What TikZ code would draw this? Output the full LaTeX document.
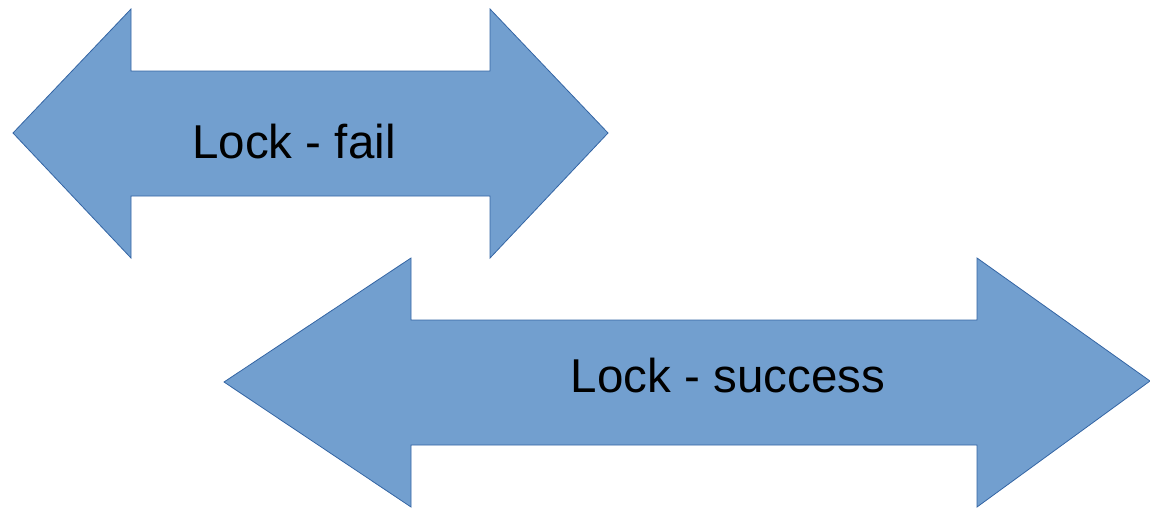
\documentclass[tikz,border=0pt]{standalone}
\usepackage{fontspec}
\setmainfont{Liberation Sans}
\definecolor{arrowfill}{HTML}{729FCF}
\definecolor{arrowline}{HTML}{3465A4}

\begin{document}
\begin{tikzpicture}[
        x=1pt, y=-1pt,
        bigarrow/.style={fill=arrowfill, draw=arrowline, line width=0.8pt, line join=miter},
        label/.style={anchor=base, inner sep=0pt, font=\fontsize{47.5}{52}\selectfont}
        ]
        \useasboundingbox (0,0) rectangle (1150,509);

        % Arrows
        \draw [bigarrow] (13,133) -- (131,9) -- (131,71) -- (490,71) -- (490,9) -- (608,133)
              -- (490,258) -- (490,196) -- (131,196) -- (131,258) -- cycle;
        \draw [bigarrow] (224,382) -- (411,258) -- (411,320) -- (977,320) -- (977,258) -- (1150,381)
              -- (977,507) -- (977,445) -- (411,445) -- (411,507) -- cycle;

        % Labels
        \node (fail) [label] at (294,158) {Lock - fail};
        \node (success) [label] at (728,392) {Lock - success};

    \end{tikzpicture}
\end{document}
